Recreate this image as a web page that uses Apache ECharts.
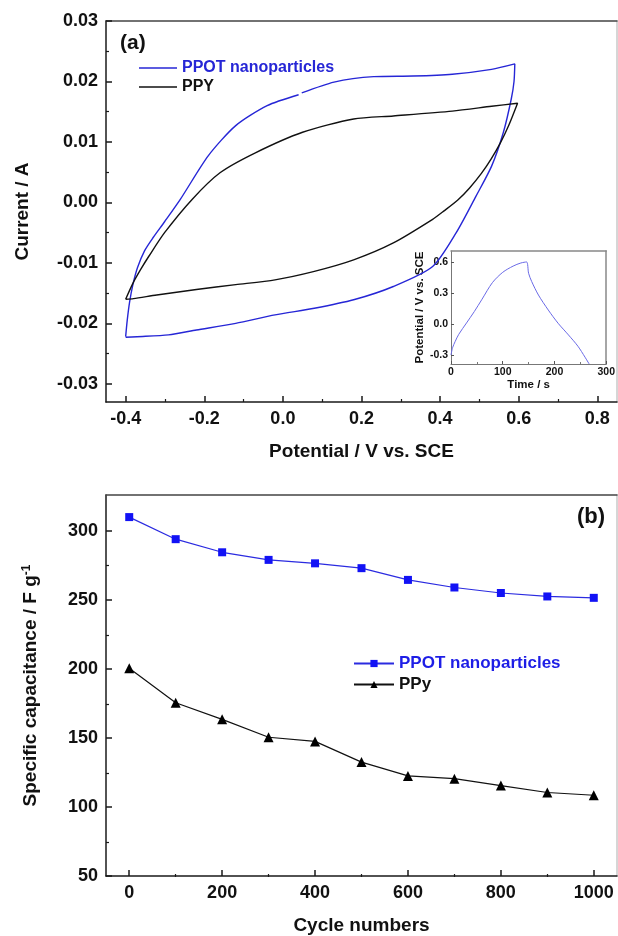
<!DOCTYPE html>
<html>
<head>
<meta charset="utf-8">
<script src="https://cdn.jsdelivr.net/npm/echarts@6/dist/echarts.min.js"></script>
<style>
html, body { margin: 0; padding: 0; background: #fff; }
#chart { width: 618px; height: 936px; }
</style>
</head>
<body>
<div id="chart"></div>
<script>
// (a) cyclic voltammograms: potential (V vs. SCE) / current (A), '-' = small gap in the trace
const ppotCvV = [-0.400, -0.396, -0.390, -0.382, -0.370, -0.352, -0.330, -0.301, -0.261, -0.190, -0.120, -0.040, 0.040, '-', 0.048, 0.130, 0.231, 0.331, 0.431, 0.531, 0.590,
  0.588, 0.581, 0.561, 0.531, 0.491, 0.441, 0.381, 0.281, 0.180, 0.080, -0.020, -0.120, -0.220, -0.291, -0.371, -0.400];
const ppotCvI = [-0.0222, -0.0195, -0.0165, -0.0137, -0.0108, -0.0080, -0.0058, -0.0032, 0.0005, 0.0077, 0.0127, 0.0160, 0.0178, '-', 0.0181, 0.0199, 0.0208, 0.0209, 0.0212, 0.0220, 0.0229,
  0.0200, 0.0171, 0.0116, 0.0060, 0.0010, -0.0050, -0.0106, -0.0139, -0.0161, -0.0175, -0.0186, -0.0200, -0.0211, -0.0219, -0.0222, -0.0223];
const ppyCvV = [-0.400, -0.381, -0.361, -0.341, -0.301, -0.231, -0.160, -0.070, 0.050, 0.180, 0.281, 0.431, 0.531, 0.597,
  0.575, 0.553, 0.530, 0.505, 0.475, 0.445, 0.410, 0.381, 0.281, 0.180, 0.080, -0.020, -0.120, -0.220, -0.321, -0.380, -0.400];
const ppyCvI = [-0.0160, -0.0133, -0.0110, -0.0089, -0.0050, 0.0005, 0.0049, 0.0082, 0.0116, 0.0138, 0.0143, 0.0151, 0.0159, 0.0164,
  0.0128, 0.0098, 0.0072, 0.0048, 0.0024, 0.0004, -0.0014, -0.0028, -0.0067, -0.0095, -0.0114, -0.0128, -0.0136, -0.0144, -0.0153, -0.0159, -0.0160];

// inset: charge / discharge curve
const gcdTime = [0, 3, 8, 15, 30, 45, 60, 80, 100, 120, 135, 146, 150, 156, 169, 188, 207, 227, 246, 267];
const gcdPot = [-0.30, -0.23, -0.17, -0.10, 0.01, 0.12, 0.24, 0.40, 0.50, 0.56, 0.59, 0.60, 0.49, 0.41, 0.28, 0.135, 0.007, -0.106, -0.22, -0.387];

// (b) cycling
const cycles = [0, 100, 200, 300, 400, 500, 600, 700, 800, 900, 1000];
const ppotCap = [310, 294, 284.5, 279, 276.5, 273, 264.5, 259, 255, 252.5, 251.5];
const ppyCap = [200.5, 175.5, 163.5, 150.5, 147.5, 132.5, 122.5, 120.5, 115.5, 110.5, 108.5];

// tick values
const cvXTicks = [-0.4, -0.2, 0, 0.2, 0.4, 0.6, 0.8];
const cvXMinor = [-0.3, -0.1, 0.1, 0.3, 0.5, 0.7];
const cvYTicks = [-0.03, -0.02, -0.01, 0, 0.01, 0.02, 0.03];
const cvYMinor = [-0.025, -0.015, -0.005, 0.005, 0.015, 0.025];
const insetYTicks = [-0.3, 0, 0.3, 0.6];
const cycXTicks = [0, 200, 400, 600, 800, 1000];
const cycXMinor = [100, 300, 500, 700, 900];
const cycYTicks = [50, 100, 150, 200, 250, 300];
const cycYMinor = [75, 125, 175, 225, 275];

const legendNames = { cvPPOT: 'PPOT nanoparticles', cvPPY: 'PPY', cyPPOT: 'PPOT nanoparticles', cyPPy: 'PPy' };

const FONT = '"Liberation Sans", Arial, sans-serif';
const AX = '#1a1a1a';
const BLUE = '#2626d6';

let pairs = function (xs, ys) {
  return xs.map((x, i) => (x === '-' ? ['-', '-'] : [x, ys[i]]));
};

let txt = function (size) {
  return { fontFamily: FONT, fontSize: size, fontWeight: 'bold', color: '#111' };
};

// main axis with ticks pointing inside
let mainAxis = function (grid, min, max, ticks, fmt, o) {
  return Object.assign({
    type: 'value', gridIndex: grid, min: min, max: max,
    axisLine: { onZero: false, lineStyle: { color: AX, width: 1.5 } },
    axisTick: { inside: true, length: 6, customValues: ticks, lineStyle: { color: AX, width: 1.5 } },
    axisLabel: Object.assign({ customValues: ticks, formatter: fmt, margin: 8 }, txt(18)),
    splitLine: { show: false },
    nameLocation: 'middle',
    nameTextStyle: txt(19)
  }, o);
};
// only short inner ticks (sits on its own copy of the grid)
let minorAxis = function (grid, min, max, ticks, pos) {
  return {
    type: 'value', gridIndex: grid, min: min, max: max, position: pos,
    axisLine: { show: false, onZero: false },
    axisTick: { inside: true, length: 3, customValues: ticks, lineStyle: { color: AX, width: 1.2 } },
    axisLabel: { show: false, customValues: ticks },
    splitLine: { show: false }
  };
};
// plain border line of the frame
let borderAxis = function (grid, min, max, pos, color) {
  return {
    type: 'value', gridIndex: grid, min: min, max: max, position: pos,
    axisLine: { onZero: false, lineStyle: { color: color, width: 1.5 } },
    axisTick: { show: false }, axisLabel: { show: false }, splitLine: { show: false }
  };
};

const gridA = { left: 106, top: 21, width: 511, height: 381 };
const gridIn = { left: 451, top: 251, width: 157, height: 113 };
const gridB = { left: 106, top: 495, width: 511, height: 382 };

let chart = echarts.init(document.getElementById('chart'), null, { renderer: 'canvas' });

let option = {
  animation: false,
  backgroundColor: '#fff',
  title: [
    { text: '(a)', left: 120, top: 33, padding: 0, textStyle: txt(21) },
    { text: '(b)', left: 577, top: 506, padding: 0, textStyle: txt(22) }
  ],
  legend: [
    {
      orient: 'vertical', left: 139, top: 60, padding: 0,
      icon: 'rect', itemWidth: 38, itemHeight: 1.5, itemGap: 3,
      textStyle: txt(16),
      formatter: n => legendNames[n],
      data: [{ name: 'cvPPOT', textStyle: { color: BLUE } }, { name: 'cvPPY', textStyle: { color: '#111' } }]
    },
    {
      orient: 'vertical', left: 353, top: 655, padding: 0,
      itemWidth: 40, itemHeight: 9, itemGap: 4,
      textStyle: txt(17),
      formatter: n => legendNames[n],
      data: [{ name: 'cyPPOT', textStyle: { color: '#1e1ee6' } }, { name: 'cyPPy', textStyle: { color: '#111' } }]
    }
  ],
  grid: [
    gridA,
    Object.assign({ show: true, backgroundColor: '#fff', borderWidth: 0 }, gridIn),
    gridB,
    Object.assign({}, gridA),
    Object.assign({}, gridB)
  ],
  xAxis: [
    mainAxis(0, -0.45, 0.85, cvXTicks, v => v.toFixed(1), { name: 'Potential / V vs. SCE', nameGap: 40 }),
    borderAxis(0, -0.45, 0.85, 'top', '#444'),
    {
      type: 'value', gridIndex: 1, min: 0, max: 300, interval: 100,
      axisLine: { onZero: false, lineStyle: { color: '#777', width: 1 } },
      axisTick: { inside: true, length: 3, lineStyle: { color: '#555' } },
      minorTick: { show: true, splitNumber: 2, length: 2, lineStyle: { color: '#777' } },
      axisLabel: Object.assign({ margin: 3 }, txt(10.5)),
      splitLine: { show: false },
      name: 'Time / s', nameLocation: 'middle', nameGap: 15, nameTextStyle: txt(11.5)
    },
    borderAxis(1, 0, 300, 'top', '#888'),
    mainAxis(2, -50, 1050, cycXTicks, v => String(v), { name: 'Cycle numbers', nameGap: 40 }),
    borderAxis(2, -50, 1050, 'top', '#444'),
    minorAxis(3, -0.45, 0.85, cvXMinor, 'bottom'),
    minorAxis(4, -50, 1050, cycXMinor, 'bottom')
  ],
  yAxis: [
    mainAxis(0, -0.033, 0.03, cvYTicks, v => v.toFixed(2), { name: 'Current / A', nameGap: 74 }),
    borderAxis(0, -0.033, 0.03, 'right', '#c8c8c8'),
    {
      type: 'value', gridIndex: 1, min: -0.387, max: 0.706,
      axisLine: { onZero: false, lineStyle: { color: '#777', width: 1 } },
      axisTick: { inside: true, length: 3, customValues: insetYTicks, lineStyle: { color: '#555' } },
      axisLabel: Object.assign({ customValues: insetYTicks, formatter: v => v.toFixed(1), margin: 3 }, txt(10.5)),
      splitLine: { show: false },
      name: 'Potential / V vs. SCE', nameLocation: 'middle', nameGap: 24, nameTextStyle: txt(11.5)
    },
    borderAxis(1, -0.387, 0.706, 'right', '#888'),
    mainAxis(2, 50, 326, cycYTicks, v => String(v), {
      name: 'Specific capacitance / F g{sup|-1}', nameGap: 66,
      nameTextStyle: Object.assign(txt(19), { rich: { sup: { fontFamily: FONT, fontSize: 12, fontWeight: 'bold', color: '#111', verticalAlign: 'top' } } })
    }),
    borderAxis(2, 50, 326, 'right', '#c8c8c8'),
    minorAxis(3, -0.033, 0.03, cvYMinor, 'left'),
    minorAxis(4, 50, 326, cycYMinor, 'left')
  ],
  series: [
    {
      name: 'cvPPOT', type: 'line', xAxisIndex: 0, yAxisIndex: 0,
      data: pairs(ppotCvV, ppotCvI), symbol: 'none', smooth: 0.25,
      lineStyle: { color: BLUE, width: 1.4 }, itemStyle: { color: BLUE }
    },
    {
      name: 'cvPPY', type: 'line', xAxisIndex: 0, yAxisIndex: 0,
      data: pairs(ppyCvV, ppyCvI), symbol: 'none', smooth: 0.25,
      lineStyle: { color: '#111', width: 1.4 }, itemStyle: { color: '#111' }
    },
    {
      name: 'gcd', type: 'line', xAxisIndex: 2, yAxisIndex: 2,
      data: pairs(gcdTime, gcdPot), symbol: 'none', smooth: 0.3,
      lineStyle: { color: '#6a6ae6', width: 1 }
    },
    {
      name: 'cyPPOT', type: 'line', xAxisIndex: 4, yAxisIndex: 4,
      data: pairs(cycles, ppotCap), symbol: 'rect', symbolSize: 8,
      lineStyle: { color: '#2b2be0', width: 1.2 }, itemStyle: { color: '#1212f5' }
    },
    {
      name: 'cyPPy', type: 'line', xAxisIndex: 4, yAxisIndex: 4,
      data: pairs(cycles, ppyCap), symbol: 'triangle', symbolSize: 10,
      lineStyle: { color: '#111', width: 1.2 }, itemStyle: { color: '#000' }
    }
  ]
};

chart.setOption(option);
</script>
</body>
</html>
